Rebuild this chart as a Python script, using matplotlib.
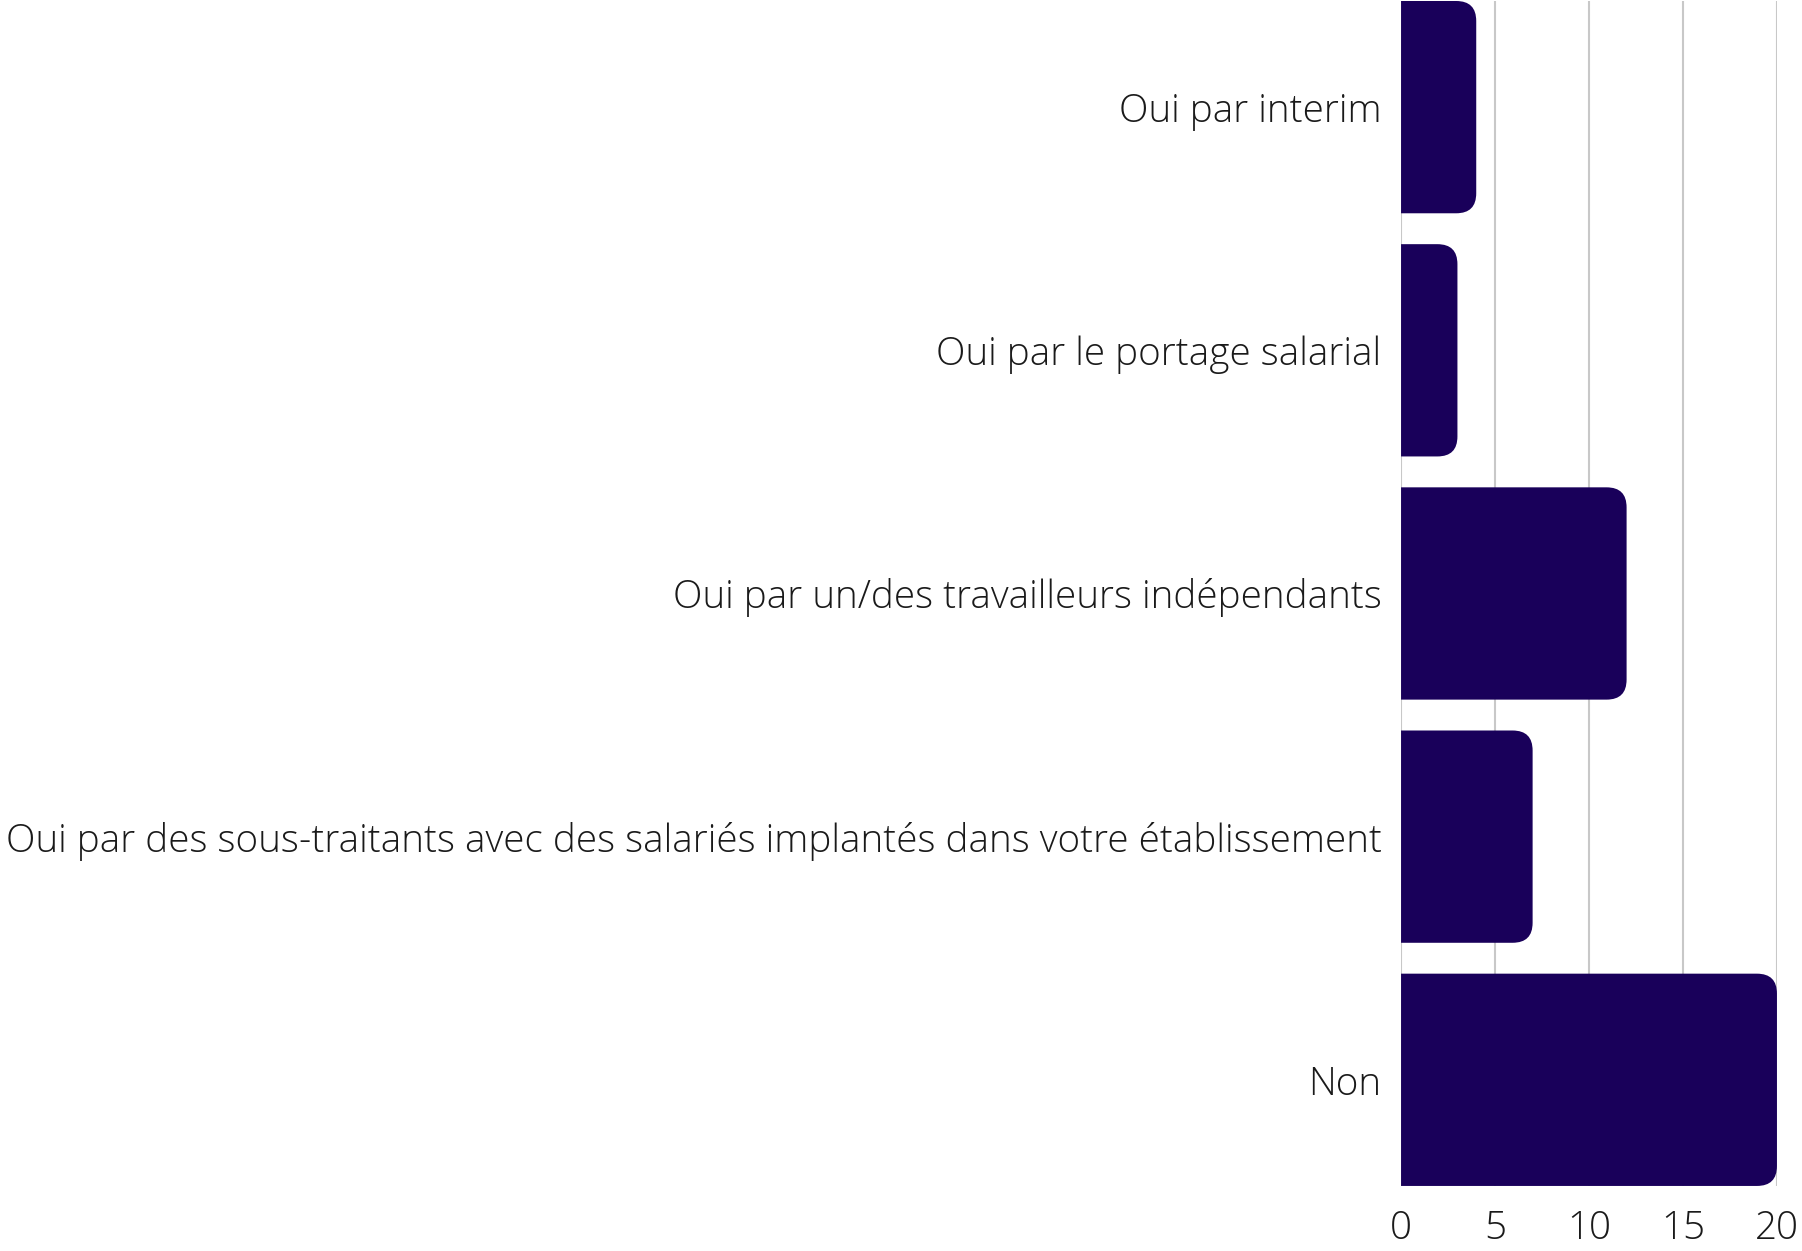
import matplotlib.pyplot as plt
from matplotlib.patches import PathPatch
from matplotlib.path import Path

plt.rcParams['font.family'] = ['Open Sans', 'DejaVu Sans']

categories = [
    "Oui par interim",
    "Oui par le portage salarial",
    "Oui par un/des travailleurs indépendants",
    "Oui par des sous-traitants avec des salariés implantés dans votre établissement",
    "Non",
]
values = [4, 3, 12, 7, 20]
ticks = [0, 5, 10, 15, 20]

bar_color = "#19005a"
grid_color = "#c8c8c8"
text_color = "#1a1a1a"

fig = plt.figure(figsize=(18.02, 12.51), dpi=100)
ax = fig.add_axes([0.7775, 0.052, 0.2086, 0.9472])

ypos = list(range(len(categories)))
bars = ax.barh(ypos, values, height=0.873, color=bar_color, alpha=0)

# rounded right end, radius given in pixels and converted to data units
px_per_x = 0.2086 * 1802 / 20
px_per_y = 0.9472 * 1251 / 4.873
rx = 20 / px_per_x
ry = 20 / px_per_y
for b in bars:
    x0, y0, w, h = b.get_x(), b.get_y(), b.get_width(), b.get_height()
    x1, y1 = x0 + w, y0 + h
    verts = [(x0, y0), (x1 - rx, y0), (x1, y0), (x1, y0 + ry),
             (x1, y1 - ry), (x1, y1), (x1 - rx, y1), (x0, y1), (x0, y0)]
    codes = [Path.MOVETO, Path.LINETO, Path.CURVE3, Path.CURVE3,
             Path.LINETO, Path.CURVE3, Path.CURVE3, Path.LINETO, Path.CLOSEPOLY]
    ax.add_patch(PathPatch(Path(verts, codes), facecolor=bar_color,
                           edgecolor="none", zorder=3))

ax.set_xlim(0, 20)
ax.set_ylim(len(categories) - 1 + 0.4365, -0.4365)
ax.set_yticks(ypos)
ax.set_yticklabels(categories, fontsize=27.8, fontweight="light", color=text_color)
ax.set_xticks(ticks)
ax.set_xticklabels([str(t) for t in ticks], fontsize=27.8, fontweight="light",
                   color=text_color)
ax.tick_params(axis="y", length=0, pad=14)
ax.tick_params(axis="x", length=0, pad=17)

for t in ticks:
    ax.axvline(t, color=grid_color, lw=1.5, zorder=1)
for s in ax.spines.values():
    s.set_visible(False)

fig.savefig("out.png", dpi=100)
